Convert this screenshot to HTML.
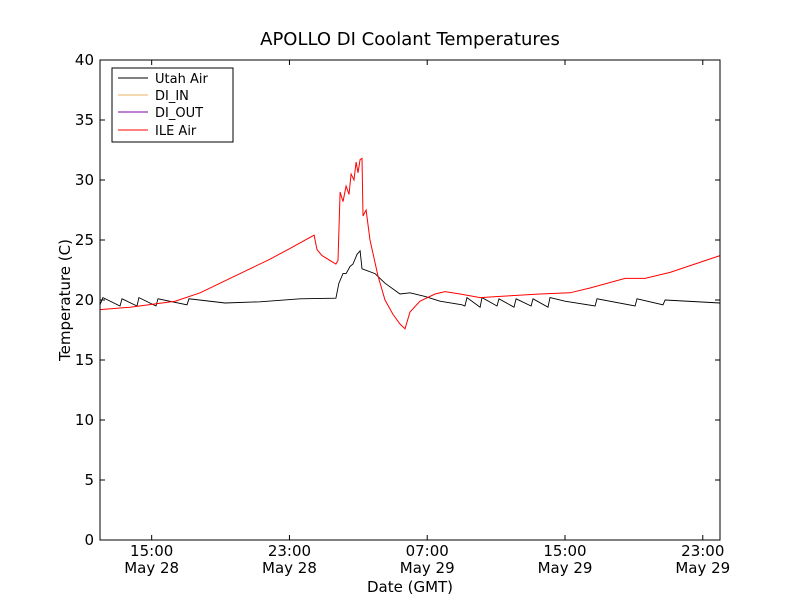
<!DOCTYPE html>
<html><head><meta charset="utf-8"><style>
body{margin:0;background:#fff;}
svg{display:block;font-family:"DejaVu Sans","Liberation Sans",sans-serif;}
</style></head><body>
<svg id="chart" width="800" height="600" viewBox="0 0 800 600">
<rect width="800" height="600" fill="#fff"/>
<text x="410" y="45" font-size="18" text-anchor="middle">APOLLO DI Coolant Temperatures</text>
<g id="series"></g>
<rect x="100" y="60" width="620" height="480" fill="none" stroke="#000" stroke-width="1"/>
<g id="axes"></g>
<text transform="translate(70,300) rotate(-90)" font-size="15" text-anchor="middle">Temperature (C)</text>
<text x="410" y="592" font-size="15" text-anchor="middle">Date (GMT)</text>
<g>
<rect x="112" y="68" width="121" height="74" fill="#fff" stroke="#000"/>
<line x1="118" y1="78" x2="148" y2="78" stroke="#000"/><text x="155" y="83" font-size="13">Utah Air</text>
<line x1="118" y1="95" x2="148" y2="95" stroke="#e8b060"/><text x="155" y="100" font-size="13">DI_IN</text>
<line x1="118" y1="112" x2="148" y2="112" stroke="#8000a0"/><text x="155" y="117" font-size="13">DI_OUT</text>
<line x1="118" y1="130" x2="148" y2="130" stroke="#f00"/><text x="155" y="135" font-size="13">ILE Air</text>
</g>
</svg>
<script>
const yTicks=[0,5,10,15,20,25,30,35,40];
const xTickHours=[3,11,19,27,35];
const xTickTimes=["15:00","23:00","07:00","15:00","23:00"];
const xTickDates=["May 28","May 28","May 29","May 29","May 29"];
const redHours=[0,1.74,4.36,5.81,7.26,8.71,9.87,11.03,12.43,12.6,12.89,13.7,13.82,13.94,14.11,14.29,14.46,14.58,14.75,14.87,14.98,15.1,15.21,15.27,15.45,15.68,16.14,16.55,17.01,17.42,17.71,18.0,18.58,19.45,20.03,20.91,22.07,23.23,25.55,27.29,28.45,30.49,31.65,33.1,34.55,36];
const redTemps=[19.2,19.4,19.9,20.6,21.6,22.6,23.4,24.3,25.4,24.2,23.7,23.0,23.3,29.0,28.2,29.5,28.8,30.5,30.0,31.5,30.6,31.7,31.8,27.0,27.5,25.0,22.0,20.0,18.8,18.0,17.6,19.0,19.9,20.5,20.7,20.5,20.2,20.3,20.5,20.6,21.0,21.8,21.8,22.3,23.0,23.7];
const blackHours=[0,0.17,1.16,1.28,2.15,2.26,3.25,3.37,5.05,5.17,7.26,9.29,11.61,13.7,13.87,14.11,14.29,14.52,14.69,14.92,15.1,15.21,15.97,16.55,17.42,18.0,18.87,19.74,21.02,21.19,21.31,22.07,22.18,23.05,23.17,24.04,24.16,25.03,25.14,26.01,26.13,27.0,28.75,28.86,31.07,31.18,32.69,32.81,36];
const blackTemps=[19.6,20.2,19.5,20.1,19.5,20.2,19.5,20.1,19.6,20.1,19.75,19.85,20.1,20.15,21.4,22.2,22.2,22.8,23.0,23.8,24.1,22.6,22.2,21.4,20.5,20.6,20.3,19.9,19.6,19.5,20.2,19.4,20.2,19.5,20.1,19.4,20.1,19.5,20.1,19.4,20.2,19.9,19.5,20.1,19.5,20.1,19.6,20.0,19.75];
const X0=100,X1=720,Y0=540,Y1=60,H_MAX=36,T_MAX=40;
const xs=h=>X0+h/H_MAX*(X1-X0);
const ys=t=>Y0-t/T_MAX*(Y0-Y1);
const NS="http://www.w3.org/2000/svg";
const axes=document.getElementById('axes'),series=document.getElementById('series');
function mk(tag,attrs,parent){const e=document.createElementNS(NS,tag);for(const k in attrs)e.setAttribute(k,attrs[k]);parent.appendChild(e);return e;}
yTicks.forEach(t=>{const y=ys(t);
 const a=mk('line',{x1:X0,y1:y,x2:X0+5,y2:y,stroke:'#000'},axes);
 
 
 const b=mk('line',{x1:X1-5,y1:y,x2:X1,y2:y,stroke:'#000'},axes);
 
 
 const l=mk('text',{x:X0-6,y:y+5,'font-size':15,'text-anchor':'end'},axes);l.textContent=t;
 
 
});
xTickHours.forEach((h,i)=>{const x=xs(h);
 const a=mk('line',{x1:x,y1:Y0,x2:x,y2:Y0-5,stroke:'#000'},axes);
 
 
 const b=mk('line',{x1:x,y1:Y1,x2:x,y2:Y1+5,stroke:'#000'},axes);
 
 
 const l=mk('text',{x:x,y:556,'font-size':15,'text-anchor':'middle'},axes);l.textContent=xTickTimes[i];
 
 
 const d=mk('text',{x:x,y:573,'font-size':15,'text-anchor':'middle'},axes);d.textContent=xTickDates[i];
 
 
});
function line(hs,ts){return hs.map((h,i)=>xs(h).toFixed(1)+','+ys(ts[i]).toFixed(1)).join(' ');}
const pb=mk('polyline',{points:line(blackHours,blackTemps),fill:'none',stroke:'#000','stroke-width':0.9},series);


const pr=mk('polyline',{points:line(redHours,redTemps),fill:'none',stroke:'#f00','stroke-width':1},series);


</script>
</body></html>
